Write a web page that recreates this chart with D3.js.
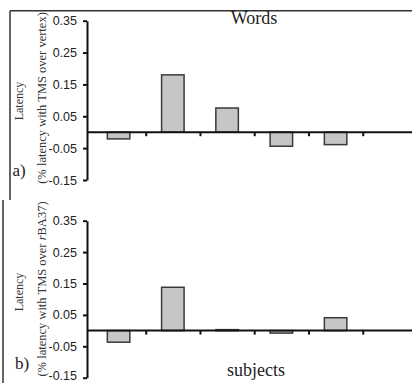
<!DOCTYPE html>
<html>
<head>
<meta charset="utf-8">
<script src="https://cdn.jsdelivr.net/npm/d3@7"></script>
<style>
  body { margin: 0; background: #fff; }
  svg { display: block; }
</style>
</head>
<body>
<div id="chart"></div>
<script>
// slots along the x axis (6 bands, the last one is empty)
const slots = [1, 2, 3, 4, 5, 6];
// latency change per subject
const wordsValues = [-0.021, 0.18, 0.076, -0.044, -0.039];
const subjectsValues = [-0.037, 0.138, 0.003, -0.008, 0.041];
const yTicks = [-0.15, -0.05, 0.05, 0.15, 0.25, 0.35];

const W = 412, H = 383;
const svg = d3.select("#chart").append("svg").attr("width", W).attr("height", H);

const serif = "'Liberation Serif', 'Times New Roman', serif";
const sans = "'Liberation Sans', Arial, sans-serif";

// x: band scale shared by both panels
const x = d3.scaleBand().domain(slots).range([91.45, 417]).paddingInner(0).paddingOuter(0);
const xb = d3.scaleLinear().domain([0, slots.length]).range([91.45, 417]);
const barW = 22.5;
const axisX = 87;

function panel(cfg) {
  const g = svg.append("g");
  const y = d3.scaleLinear().domain([-0.15, 0.35]).range(cfg.yRange);

  // frame pieces
  g.append("line")
    .attr("x1", cfg.frameX).attr("x2", cfg.frameX)
    .attr("y1", cfg.frameY[0]).attr("y2", cfg.frameY[1])
    .attr("stroke", "#333").attr("stroke-width", 1.5);
  if (cfg.topLine) {
    g.append("line")
      .attr("x1", cfg.frameX).attr("x2", W)
      .attr("y1", cfg.frameY[0]).attr("y2", cfg.frameY[0])
      .attr("stroke", "#333").attr("stroke-width", 1.5);
  }

  // y axis
  const ya = g.append("g")
    .attr("transform", `translate(${axisX},0)`)
    .call(d3.axisLeft(y).tickValues(yTicks).tickSize(4).tickSizeOuter(0).tickPadding(6)
      .tickFormat((d) => d.toFixed(2)));
  ya.select(".domain").attr("stroke", "#111").attr("stroke-width", 2);
  ya.selectAll(".tick line").attr("stroke", "#111").attr("stroke-width", 2);
  ya.selectAll(".tick text").style("font-family", sans).style("font-size", "12.5px").attr("fill", "#222");
  // keep the lowest label inside the page
  if (cfg.nudgeBottom) {
    ya.selectAll(".tick text").filter((d) => d === yTicks[0]).attr("y", -2);
  }

  // bars
  g.selectAll("rect.bar")
    .data(cfg.values)
    .enter()
    .append("rect")
    .attr("class", "bar")
    .attr("x", (d, i) => x(slots[i]) + x.bandwidth() / 2 - barW / 2)
    .attr("y", (d) => y(Math.max(0, d)))
    .attr("width", barW)
    .attr("height", (d) => Math.max(1, Math.abs(y(d) - y(0))))
    .attr("fill", "#c6c6c6")
    .attr("stroke", "#3a3a3a")
    .attr("stroke-width", 1.5);

  // zero line with ticks at band boundaries
  const xa = g.append("g")
    .attr("transform", `translate(0,${y(0)})`)
    .call(d3.axisBottom(xb).tickValues([1, 2, 3, 4, 5]).tickSize(4).tickSizeOuter(0).tickFormat(""));
  xa.select(".domain").remove();
  xa.selectAll(".tick line").attr("stroke", "#111").attr("stroke-width", 2);
  g.append("line")
    .attr("x1", axisX).attr("x2", W)
    .attr("y1", y(0)).attr("y2", y(0))
    .attr("stroke", "#111").attr("stroke-width", 2);

  // y labels
  g.append("text")
    .attr("transform", `translate(23,${cfg.latY}) rotate(-90)`)
    .style("text-anchor", "middle")
    .style("font-family", serif).style("font-size", "12px")
    .attr("fill", "#333")
    .text("Latency");
  const t = g.append("text")
    .attr("transform", `translate(46,${cfg.subY}) rotate(-90)`)
    .style("text-anchor", "middle")
    .style("font-family", serif).style("font-size", "12.5px")
    .attr("fill", "#333");
  cfg.subParts.forEach((p) => {
    t.append("tspan").style("font-style", p.italic ? "italic" : "normal").text(p.text);
  });

  // panel letter
  g.append("text")
    .attr("x", cfg.letterX).attr("y", cfg.letterY)
    .style("font-family", serif).style("font-size", "17px")
    .attr("fill", "#222")
    .text(cfg.letter);

  // title
  g.append("text")
    .attr("x", cfg.titleX).attr("y", cfg.titleY)
    .style("text-anchor", "middle")
    .style("font-family", serif).style("font-size", "18px")
    .attr("fill", "#222")
    .text(cfg.title);
}

panel({
  values: wordsValues,
  yRange: [180, 20.7],
  frameX: 10, frameY: [10.7, 200], topLine: true,
  latY: 101, subY: 98,
  subParts: [{ text: "(% latency with TMS over vertex)" }],
  letter: "a)", letterX: 12.5, letterY: 176,
  title: "Words", titleX: 254, titleY: 24
});

panel({
  values: subjectsValues,
  yRange: [377.7, 220.7],
  frameX: 3, frameY: [200, H], topLine: false,
  nudgeBottom: true,
  latY: 292, subY: 289,
  subParts: [{ text: "(% latency with TMS over " }, { text: "r", italic: true }, { text: "BA37)" }],
  letter: "b)", letterX: 15, letterY: 369,
  title: "subjects", titleX: 256, titleY: 376
});
</script>
</body>
</html>
